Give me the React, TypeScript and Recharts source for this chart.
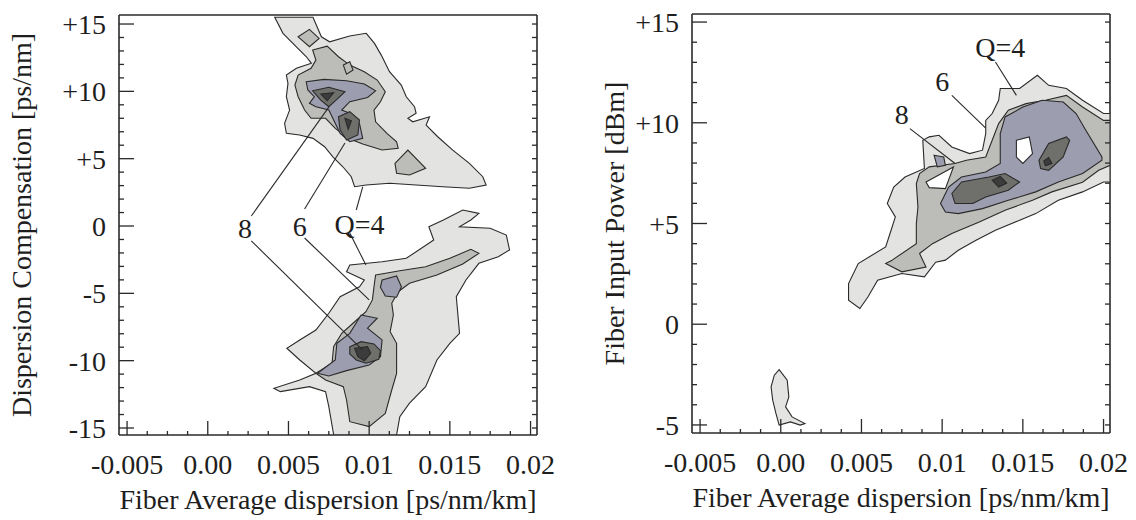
import { ComposedChart, Scatter, XAxis, YAxis } from 'recharts'

const FONT = '"Liberation Serif", "Times New Roman", Times, serif'
const INK = '#2a2a2a'

// contour fills, lightest (Q=4) to darkest
const LEVEL_FILL = ['#e3e3e1', '#bcbcb8', '#9d9db0', '#6f6f6b', '#3c3c3c']

// axis ticks
const xTicks = [
  -0.005, -0.00375, -0.0025, -0.00125, 0, 0.00125, 0.0025, 0.00375, 0.005, 0.00625, 0.0075,
  0.00875, 0.01, 0.01125, 0.0125, 0.01375, 0.015, 0.01625, 0.0175, 0.01875, 0.02,
]
const xMajor = [-0.005, 0, 0.005, 0.01, 0.015, 0.02]
const xMajorLabels = ['-0.005', '0.00', '0.005', '0.01', '0.015', '0.02']

const leftYTicks = [
  -15, -14, -13, -12, -11, -10, -9, -8, -7, -6, -5, -4, -3, -2, -1, 0, 1, 2, 3, 4, 5, 6, 7, 8,
  9, 10, 11, 12, 13, 14, 15,
]
const leftYMajor = [-15, -10, -5, 0, 5, 10, 15]
const leftYLabels = ['-15', '-10', '-5', '0', '+5', '+10', '+15']

const rightYTicks = [-5, -4, -3, -2, -1, 0, 1, 2, 3, 4, 5, 6, 7, 8, 9, 10, 11, 12, 13, 14, 15]
const rightYMajor = [-5, 0, 5, 10, 15]
const rightYLabels = ['-5', '0', '+5', '+10', '+15']

// ---- left panel: dispersion compensation vs fiber average dispersion ----
const leftUpperQ4 = [
  [0.00415, 15.5], [0.00652, 15.5], [0.00704, 14.05], [0.00755, 13.68], [0.00879, 14.11],
  [0.00982, 14.31], [0.01033, 13.56], [0.01075, 12.69], [0.01126, 11.46], [0.01199, 10.47],
  [0.0123, 9.6], [0.01281, 8.86], [0.01291, 8.37], [0.0124, 8.0], [0.0127, 7.74],
  [0.01374, 8.11], [0.01353, 7.5], [0.01425, 6.63], [0.01518, 5.64], [0.01621, 4.65],
  [0.01704, 3.66], [0.01725, 3.04], [0.01621, 2.8], [0.01456, 2.92], [0.01291, 3.04],
  [0.01126, 3.17], [0.00982, 3.04], [0.0091, 2.92], [0.00889, 3.66], [0.00837, 4.4],
  [0.00775, 5.14], [0.00724, 5.89], [0.00652, 6.51], [0.00569, 6.76], [0.00487, 6.88],
  [0.00476, 7.62], [0.00507, 8.61], [0.00487, 9.6], [0.00497, 10.59], [0.00487, 11.21],
  [0.00549, 11.71], [0.00642, 12.08], [0.00611, 12.57], [0.00549, 13.31], [0.00466, 14.31],
]
const leftUpperQ6 = [
  [0.0065, 13.07], [0.0074, 13.36], [0.0081, 12.57], [0.0088, 11.95], [0.0097, 11.46],
  [0.0105, 10.84], [0.011, 9.97], [0.0107, 9.23], [0.0103, 8.61], [0.0104, 7.74],
  [0.0111, 6.88], [0.0117, 6.26], [0.0118, 5.77], [0.0108, 5.64], [0.0096, 6.09],
  [0.0087, 6.51], [0.0079, 7.25], [0.0073, 8.0], [0.0064, 8.0], [0.006, 8.61],
  [0.0056, 9.6], [0.0054, 10.47], [0.0056, 11.21], [0.0064, 11.71], [0.0067, 12.32],
]
const leftUpperQ7 = [
  [0.0061, 10.71], [0.0072, 10.89], [0.0086, 10.79], [0.0097, 10.54], [0.0104, 10.04],
  [0.0099, 9.55], [0.0088, 9.23], [0.0083, 8.61], [0.0088, 8.37], [0.0094, 7.62],
  [0.0096, 6.51], [0.0088, 6.26], [0.0082, 6.88], [0.0078, 7.87], [0.0075, 8.61],
  [0.0067, 8.86], [0.0063, 9.11], [0.0066, 9.6], [0.0062, 10.1],
]
const leftUpperQ8a = [[0.0065, 10.04], [0.0075, 10.3], [0.0085, 9.97], [0.008, 9.41], [0.0075, 8.86], [0.007, 9.35]]
const leftUpperQ8b = [[0.0081, 8.11], [0.0088, 8.49], [0.0094, 7.87], [0.0093, 6.76], [0.0086, 6.38], [0.0082, 7.13]]
const leftUpperQ10a = [[0.007, 9.8], [0.0078, 9.9], [0.0074, 9.3]]
const leftUpperQ10b = [[0.0085, 8.0], [0.0089, 7.82], [0.0087, 7.18]]
const leftSpotTop = [[0.0056, 14.05], [0.0063, 14.6], [0.0069, 13.93], [0.0063, 13.31]]
const leftSpotMid = [[0.0084, 11.95], [0.0088, 12.2], [0.009, 11.58], [0.0086, 11.28]]
const leftSpotLow = [[0.0116, 4.65], [0.0124, 5.64], [0.0135, 4.28], [0.0125, 3.79], [0.0117, 3.91]]

const leftLowerQ4 = [
  [0.0137, -0.05], [0.0146, 0.45], [0.0158, 1.19], [0.0168, 0.94], [0.0163, 0.45],
  [0.0156, -0.05], [0.0175, -0.17], [0.0185, -0.67], [0.0187, -1.78], [0.018, -2.28],
  [0.0168, -2.77], [0.016, -4.01], [0.0154, -5.25], [0.0156, -7.97], [0.015, -8.71],
  [0.0142, -9.95], [0.0135, -11.93], [0.0125, -13.16], [0.0119, -14.16], [0.0117, -15.5],
  [0.0078, -15.5], [0.0075, -13.42], [0.0073, -12.3], [0.0063, -11.93], [0.0045, -12.3],
  [0.0041, -12.05], [0.0057, -11.43], [0.0067, -10.94], [0.0057, -9.95], [0.0049, -9.08],
  [0.0057, -8.46], [0.0067, -7.72], [0.0075, -6.48], [0.0082, -5.25], [0.0094, -4.51],
  [0.0097, -4.01], [0.0086, -3.39], [0.0088, -2.9], [0.0108, -2.65], [0.0123, -2.4],
  [0.014, -1.04],
]
const leftLowerQ6 = [
  [0.0104, -3.64], [0.0119, -3.32], [0.0135, -3.02], [0.015, -2.4], [0.0163, -1.73],
  [0.0168, -2.03], [0.0158, -2.82], [0.0142, -3.64], [0.0125, -4.25], [0.0118, -4.88],
  [0.0114, -5.74], [0.0115, -6.61], [0.0113, -7.85], [0.0117, -8.71], [0.0117, -10.94],
  [0.0114, -12.18], [0.011, -13.91], [0.01, -14.9], [0.0088, -14.53], [0.0086, -12.92],
  [0.0084, -11.93], [0.0073, -11.43], [0.0067, -10.94], [0.0077, -10.19], [0.0078, -8.96],
  [0.0083, -7.97], [0.009, -7.22], [0.0098, -6.36], [0.0102, -5.49], [0.0103, -4.51],
]
const leftLowerSpot = [[0.0108, -4.01], [0.0117, -3.71], [0.012, -4.51], [0.0117, -5.29], [0.011, -5.2], [0.0107, -4.55]]
const leftLowerQ7 = [
  [0.0095, -6.61], [0.0105, -6.85], [0.0099, -7.59], [0.0108, -8.46], [0.0107, -9.7],
  [0.01, -10.32], [0.0086, -10.74], [0.0075, -11.14], [0.0068, -10.94], [0.0079, -9.95],
  [0.008, -8.71], [0.0088, -7.97],
]
const leftLowerQ8 = [[0.0088, -8.96], [0.0095, -8.59], [0.0103, -8.76], [0.0107, -9.26], [0.0106, -9.9], [0.0098, -10.19], [0.0092, -9.95], [0.0088, -9.5]]
const leftLowerQ10 = [[0.0091, -9.08], [0.0099, -8.96], [0.0101, -9.45], [0.0097, -10.0], [0.0093, -9.7]]

const leftLeaders = [
  [[0.0027, 0.74], [0.0075, 8.83]],
  [[0.0027, -1.11], [0.0096, -9.21]],
  [[0.006, 1.26], [0.0085, 6.16]],
  [[0.006, -0.89], [0.01, -5.49]],
  [[0.0092, 1.19], [0.0096, 2.9]],
  [[0.0088, -0.52], [0.0098, -2.9]],
]
const leftLabels = [
  { x: 0.0023, y: -0.15, label: '8' },
  { x: 0.0057, y: 0, label: '6' },
  { x: 0.0094, y: 0.15, label: 'Q=4' },
]

// ---- right panel: fiber input power vs fiber average dispersion ----
const rightQ4 = [
  [0.0042, 1.19], [0.0042, 2.02], [0.0048, 3.01], [0.0065, 3.84], [0.0068, 4.58],
  [0.0071, 5.33], [0.0066, 5.99], [0.007, 6.81], [0.0077, 7.31], [0.0089, 7.73],
  [0.0088, 9.13], [0.0092, 9.3], [0.0098, 9.38], [0.0106, 8.8], [0.0117, 8.47],
  [0.0125, 8.64], [0.0127, 9.46], [0.0127, 10.12], [0.0131, 10.46], [0.0135, 11.12],
  [0.0136, 11.7], [0.0148, 11.7], [0.0159, 12.36], [0.0166, 11.86], [0.0177, 11.7],
  [0.0187, 11.12], [0.02, 10.46], [0.0204, 10.46], [0.0204, 7.06], [0.02, 7.06],
  [0.0187, 6.57], [0.0172, 6.15], [0.0158, 5.49], [0.0148, 5.16], [0.0133, 4.67],
  [0.0121, 4.17], [0.011, 3.67], [0.0102, 3.18], [0.0096, 3.08], [0.0089, 2.35],
  [0.0075, 2.52], [0.006, 2.18], [0.0054, 1.35], [0.0049, 0.78],
]
const rightQ6 = [
  [0.0069, 3.18], [0.0084, 4.0], [0.0084, 5.0], [0.0085, 5.82], [0.0084, 6.98],
  [0.0086, 7.48], [0.0092, 7.81], [0.0108, 7.98], [0.0115, 8.14], [0.0127, 8.3],
  [0.0131, 9.13], [0.0135, 9.96], [0.0141, 10.62], [0.0152, 10.95], [0.0164, 11.12],
  [0.0177, 11.36], [0.0187, 10.78], [0.02, 10.12], [0.0204, 10.12], [0.0204, 7.89],
  [0.0197, 7.64], [0.0187, 7.05], [0.0168, 6.57], [0.0156, 6.15], [0.0139, 5.66],
  [0.0123, 5.08], [0.0106, 4.5], [0.0094, 4.0], [0.0086, 3.51], [0.009, 2.84],
  [0.0075, 2.6], [0.0065, 3.01],
]
const rightNotch = [[0.009, 7.06], [0.0107, 7.81], [0.0102, 6.73], [0.0092, 6.78]]
const rightSpot = [[0.0095, 8.39], [0.0101, 8.3], [0.0102, 7.89], [0.0097, 7.81]]
const rightQ7 = [
  [0.0099, 5.99], [0.0104, 6.81], [0.0112, 7.31], [0.0127, 7.56], [0.0136, 7.98],
  [0.0136, 9.46], [0.0139, 10.29], [0.015, 10.78], [0.0162, 11.12], [0.0175, 11.03],
  [0.0183, 10.46], [0.0189, 9.63], [0.0199, 8.3], [0.0199, 8.14], [0.0187, 7.48],
  [0.0172, 7.06], [0.0158, 6.57], [0.0141, 6.15], [0.0125, 5.74], [0.011, 5.49],
  [0.0102, 5.57],
]
const rightHole = [[0.0146, 9.13], [0.0154, 9.3], [0.0156, 8.47], [0.015, 7.98], [0.0146, 8.3]]
const rightQ8a = [[0.0106, 6.49], [0.0112, 7.06], [0.0129, 7.31], [0.0139, 7.48], [0.0148, 7.06], [0.0141, 6.65], [0.0127, 6.32], [0.0119, 5.99], [0.0108, 5.99]]
const rightQ8b = [[0.016, 8.14], [0.0166, 8.97], [0.0177, 9.3], [0.0179, 9.13], [0.0175, 8.3], [0.0166, 7.64], [0.0161, 7.73]]
const rightQ10a = [[0.0131, 7.15], [0.0136, 7.34], [0.014, 7.01], [0.0135, 6.81]]
const rightQ10b = [[0.0163, 8.1], [0.0166, 8.27], [0.0168, 7.98], [0.0164, 7.86]]
const rightLowBlob = [
  [-0.0001, -2.25], [0.0004, -2.78], [0.0005, -3.61], [0.0003, -4.1], [0.0007, -4.6],
  [0.0015, -4.93], [0.0012, -5.01], [0.0006, -4.85], [-0.0001, -5.01], [-0.0003, -4.43],
  [-0.0005, -3.77], [-0.0006, -3.11], [-0.0004, -2.53],
]
const rightLeaders = [
  [[0.0133, 13.02], [0.0146, 11.36]],
  [[0.0106, 11.36], [0.0127, 9.73]],
  [[0.008, 9.71], [0.0108, 7.98]],
]
const rightLabels = [
  { x: 0.0136, y: 13.75, label: 'Q=4' },
  { x: 0.01, y: 12.06, label: '6' },
  { x: 0.0075, y: 10.42, label: '8' },
]

const leftLayers = [
  { pts: leftUpperQ4, fill: LEVEL_FILL[0] },
  { pts: leftLowerQ4, fill: LEVEL_FILL[0] },
  { pts: leftUpperQ6, fill: LEVEL_FILL[1] },
  { pts: leftSpotTop, fill: LEVEL_FILL[1] },
  { pts: leftSpotMid, fill: LEVEL_FILL[1] },
  { pts: leftSpotLow, fill: LEVEL_FILL[1] },
  { pts: leftLowerQ6, fill: LEVEL_FILL[1] },
  { pts: leftUpperQ7, fill: LEVEL_FILL[2] },
  { pts: leftLowerSpot, fill: LEVEL_FILL[2] },
  { pts: leftLowerQ7, fill: LEVEL_FILL[2] },
  { pts: leftUpperQ8a, fill: LEVEL_FILL[3] },
  { pts: leftUpperQ8b, fill: LEVEL_FILL[3] },
  { pts: leftLowerQ8, fill: LEVEL_FILL[3] },
  { pts: leftUpperQ10a, fill: LEVEL_FILL[4] },
  { pts: leftUpperQ10b, fill: LEVEL_FILL[4] },
  { pts: leftLowerQ10, fill: LEVEL_FILL[4] },
]

const rightLayers = [
  { pts: rightQ4, fill: LEVEL_FILL[0] },
  { pts: rightLowBlob, fill: LEVEL_FILL[0] },
  { pts: rightQ6, fill: LEVEL_FILL[1] },
  { pts: rightNotch, fill: '#ffffff' },
  { pts: rightSpot, fill: LEVEL_FILL[2] },
  { pts: rightQ7, fill: LEVEL_FILL[2] },
  { pts: rightHole, fill: '#ffffff' },
  { pts: rightQ8a, fill: LEVEL_FILL[3] },
  { pts: rightQ8b, fill: LEVEL_FILL[3] },
  { pts: rightQ10a, fill: LEVEL_FILL[4] },
  { pts: rightQ10b, fill: LEVEL_FILL[4] },
]

const toPts = (arr: number[][]) => arr.map(([x, y]) => ({ x, y }))

const labelFor = (v: number, majors: number[], labels: string[]) => {
  const i = majors.findIndex((m) => Math.abs(m - v) < 1e-9)
  return i >= 0 ? labels[i] : null
}

const noMark = () => <g />

const textShape = (p: any) => (
  <text x={p.cx} y={p.cy} dy="0.35em" textAnchor="middle" fontFamily={FONT} fontSize={28} fill="#1e1e1e">
    {p.payload.label}
  </text>
)

const bottomTick = (majors: number[], labels: string[]) => (p: any) => {
  const lab = labelFor(p.payload.value, majors, labels)
  return (
    <g>
      <line x1={p.x} x2={p.x} y1={p.y} y2={p.y - (lab ? 14 : 4)} stroke={INK} strokeWidth={1.3} />
      {lab && (
        <text x={p.x} y={p.y + 39} textAnchor="middle" fontFamily={FONT} fontSize={28} fill="#1e1e1e">
          {lab}
        </text>
      )}
    </g>
  )
}

const topTick = (p: any) => (
  <line x1={p.x} x2={p.x} y1={p.y} y2={p.y + 5} stroke={INK} strokeWidth={1.3} />
)

const leftTick = (majors: number[], labels: string[]) => (p: any) => {
  const lab = labelFor(p.payload.value, majors, labels)
  return (
    <g>
      <line x1={p.x} x2={p.x + (lab ? 15 : 5)} y1={p.y} y2={p.y} stroke={INK} strokeWidth={1.3} />
      {lab && (
        <text x={p.x - 13} y={p.y} dy="0.36em" textAnchor="end" fontFamily={FONT} fontSize={28} fill="#1e1e1e">
          {lab}
        </text>
      )}
    </g>
  )
}

const rightTick = (p: any) => (
  <line x1={p.x} x2={p.x - 5} y1={p.y} y2={p.y} stroke={INK} strokeWidth={1.3} />
)

const xTitle = (text: string) => (p: any) => {
  const vb = p.viewBox || { x: 0, y: 435, width: 418 }
  return (
    <text x={vb.x + vb.width / 2} y={vb.y + 74} textAnchor="middle" fontFamily={FONT} fontSize={28} fill="#1e1e1e">
      {text}
    </text>
  )
}

const yTitle = (text: string, bx: number) => (p: any) => {
  const vb = p.viewBox || { y: 15, height: 420 }
  const cy = vb.y + vb.height / 2
  return (
    <text x={bx} y={cy} transform={`rotate(-90 ${bx} ${cy})`} textAnchor="middle" fontFamily={FONT} fontSize={28} fill="#1e1e1e">
      {text}
    </text>
  )
}

const axisLine = { stroke: INK, strokeWidth: 1.6 }

type PanelProps = {
  layers: { pts: number[][]; fill: string }[]
  leaders: number[][][]
  labels: { x: number; y: number; label: string }[]
  yDomain: [number, number]
  yTicks: number[]
  yMajor: number[]
  yLabels: string[]
  yTitleText: string
  yTitleX: number
  yAxisWidth: number
  xAxisHeight: number
  margin: { top: number; right: number; bottom: number; left: number }
}

function Panel(props: PanelProps) {
  return (
    <ComposedChart width={568} height={520} margin={props.margin}>
      <XAxis
        xAxisId="b"
        type="number"
        dataKey="x"
        domain={[-0.0055, 0.0204]}
        allowDataOverflow
        ticks={xTicks}
        interval={0}
        tickSize={0}
        tickMargin={0}
        tickLine={false}
        tick={bottomTick(xMajor, xMajorLabels)}
        height={props.xAxisHeight}
        axisLine={axisLine}
        label={xTitle('Fiber Average dispersion [ps/nm/km]')}
      />
      <XAxis
        xAxisId="t"
        orientation="top"
        type="number"
        domain={[-0.0055, 0.0204]}
        allowDataOverflow
        ticks={xTicks}
        interval={0}
        tickSize={0}
        tickMargin={0}
        tickLine={false}
        tick={topTick}
        height={1}
        axisLine={axisLine}
      />
      <YAxis
        yAxisId="l"
        type="number"
        dataKey="y"
        domain={props.yDomain}
        allowDataOverflow
        ticks={props.yTicks}
        interval={0}
        tickSize={0}
        tickMargin={0}
        tickLine={false}
        tick={leftTick(props.yMajor, props.yLabels)}
        width={props.yAxisWidth}
        axisLine={axisLine}
        label={yTitle(props.yTitleText, props.yTitleX)}
      />
      <YAxis
        yAxisId="r"
        orientation="right"
        type="number"
        domain={props.yDomain}
        allowDataOverflow
        ticks={props.yTicks}
        interval={0}
        tickSize={0}
        tickMargin={0}
        tickLine={false}
        tick={rightTick}
        width={1}
        axisLine={axisLine}
      />
      {props.layers.map((layer, i) => (
        <Scatter
          key={`layer-${i}`}
          xAxisId="b"
          yAxisId="l"
          data={toPts(layer.pts)}
          line={{ fill: layer.fill, stroke: INK, strokeWidth: 1.1 }}
          lineType="joint"
          lineJointType="linearClosed"
          shape={noMark}
          isAnimationActive={false}
        />
      ))}
      {props.leaders.map((seg, i) => (
        <Scatter
          key={`lead-${i}`}
          xAxisId="b"
          yAxisId="l"
          data={toPts(seg)}
          line={{ fill: 'none', stroke: INK, strokeWidth: 1.1 }}
          lineType="joint"
          lineJointType="linear"
          shape={noMark}
          isAnimationActive={false}
        />
      ))}
      <Scatter xAxisId="b" yAxisId="l" data={props.labels} shape={textShape} isAnimationActive={false} />
    </ComposedChart>
  )
}

export default function App() {
  return (
    <div style={{ position: 'absolute', left: 0, top: 0, width: 1136, height: 520, background: '#fff', display: 'flex' }}>
      <Panel
        layers={leftLayers}
        leaders={leftLeaders}
        labels={leftLabels}
        yDomain={[-15.52, 15.67]}
        yTicks={leftYTicks}
        yMajor={leftYMajor}
        yLabels={leftYLabels}
        yTitleText="Dispersion Compensation [ps/nm]"
        yTitleX={31}
        yAxisWidth={119}
        xAxisHeight={85}
        margin={{ top: 14, right: 30, bottom: 0, left: 0 }}
      />
      <Panel
        layers={rightLayers}
        leaders={rightLeaders}
        labels={rightLabels}
        yDomain={[-5.4, 15.4]}
        yTicks={rightYTicks}
        yMajor={rightYMajor}
        yLabels={rightYLabels}
        yTitleText="Fiber Input Power [dBm]"
        yTitleX={56}
        yAxisWidth={124}
        xAxisHeight={87}
        margin={{ top: 13, right: 25, bottom: 0, left: 0 }}
      />
    </div>
  )
}
